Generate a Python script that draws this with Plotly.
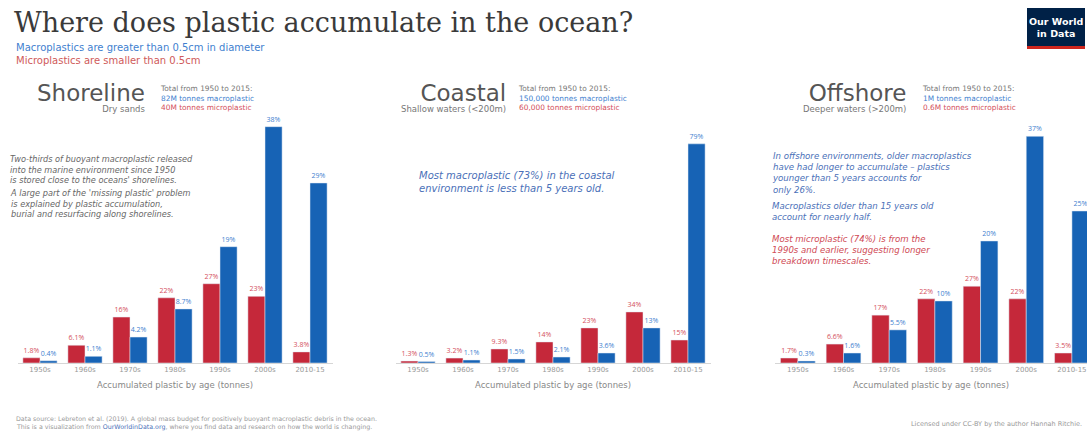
import plotly.graph_objects as go

W, H = 1087, 432

categories = ["1950s", "1960s", "1970s", "1980s", "1990s", "2000s", "2010-15"]

# Accumulated plastic by age (tonnes)
shore_micro = [0.7e6, 2.4e6, 6.2e6, 8.8e6, 10.7e6, 9.0e6, 1.5e6]
shore_macro = [0.3e6, 0.9e6, 3.5e6, 7.3e6, 15.7e6, 31.9e6, 24.3e6]

coast_micro = [900, 2300, 6600, 9900, 16500, 24000, 10800]
coast_macro = [700, 1400, 1900, 2800, 4700, 16500, 103000]

off_micro = [9500, 36000, 91000, 122000, 146000, 122000, 19000]
off_macro = [3800, 19000, 63000, 118000, 232000, 431000, 289000]

RED = "#c5283a"
BLUE = "#1763b5"
RED_T = "#d4505c"
BLUE_T = "#3f7fcf"
GRAY = "#777777"


def pct_labels(vals):
    tot = sum(vals)
    out = []
    for v in vals:
        p = v / tot * 100
        out.append(f"{p:.1f}%" if p < 10 else f"{p:.0f}%")
    return out


def px(x):
    return x / W


def py(y):
    return 1 - y / H


panels = [
    dict(micro=shore_micro, macro=shore_macro, xd=(17.5, 332.5), xr=[-0.5, 6.5], ymax=35.5e6),
    dict(micro=coast_micro, macro=coast_macro, xd=(395.5, 710.5), xr=[-0.5, 6.5], ymax=123600),
    dict(micro=off_micro, macro=off_macro, xd=(775, 1087), xr=[-0.5, 6.33], ymax=500000),
]

fig = go.Figure()
y_bottom, y_top = 363, 100
layout_axes = {}
for i, p in enumerate(panels):
    sfx = "" if i == 0 else str(i + 1)
    xa, ya = "x" + sfx, "y" + sfx
    fig.add_trace(go.Bar(
        x=categories, y=p["micro"], name="Microplastics", marker_color=RED,
        text=pct_labels(p["micro"]), textposition="outside",
        textfont=dict(size=7, color=RED_T), constraintext="none",
        xaxis=xa, yaxis=ya, showlegend=False, hoverinfo="x+y",
    ))
    fig.add_trace(go.Bar(
        x=categories, y=p["macro"], name="Macroplastics", marker_color=BLUE,
        text=pct_labels(p["macro"]), textposition="outside",
        textfont=dict(size=7, color=BLUE_T), constraintext="none",
        xaxis=xa, yaxis=ya, showlegend=False, hoverinfo="x+y",
    ))
    layout_axes["xaxis" + sfx] = dict(
        domain=[px(p["xd"][0]), min(1.0, px(p["xd"][1]))], anchor=ya,
        range=p["xr"], showgrid=False, zeroline=False,
        showline=True, linecolor="#d6d6d6", linewidth=1,
        ticks="", tickfont=dict(size=7, color="#999999", family="DejaVu Sans"),
        fixedrange=True,
    )
    layout_axes["yaxis" + sfx] = dict(
        domain=[py(y_bottom), py(y_top)], anchor=xa, range=[0, p["ymax"]],
        showgrid=False, zeroline=False, showticklabels=False, showline=False,
        fixedrange=True,
    )

fig.update_layout(**layout_axes)

ann = []


def T(x, y, text, size, color, xanchor="left", yanchor="middle", family="DejaVu Sans", italic=False):
    ann.append(dict(
        x=px(x), y=py(y), xref="paper", yref="paper", text=text, showarrow=False,
        xanchor=xanchor, yanchor=yanchor, align=xanchor if xanchor != "center" else "center",
        borderpad=0,
        font=dict(size=size, color=color, family=family, style="italic" if italic else "normal"),
    ))


# Title and subtitle
T(13, 22, "Where does plastic accumulate in the ocean?", 27, "#3a3a3a", family="DejaVu Serif")
T(15, 54, "Macroplastics are greater than 0.5cm in diameter<br>"
          "<span style='color:#cf5a5a'>Microplastics are smaller than 0.5cm</span>", 10, "#3f7fcf")

# Panel headers
heads = [
    (146, "Shoreline", "Dry sands", 159, ["Total from 1950 to 2015:", "82M tonnes macroplastic", "40M tonnes microplastic"]),
    (507, "Coastal", "Shallow waters (<200m)", 517, ["Total from 1950 to 2015:", "150,000 tonnes macroplastic", "60,000 tonnes microplastic"]),
    (907, "Offshore", "Deeper waters (>200m)", 921, ["Total from 1950 to 2015:", "1M tonnes macroplastic", "0.6M tonnes microplastic"]),
]
for xr_, big, small, xl, lines in heads:
    T(xr_, 115, f"<span style='font-size:23px;color:#555555'>{big}</span><br>{small}",
      8.5, GRAY, xanchor="right", yanchor="bottom")
    T(xl, 98, f"{lines[0]}<br><span style='color:{BLUE_T}'>{lines[1]}</span><br>"
              f"<span style='color:{RED_T}'>{lines[2]}</span>", 7.4, GRAY)

# Panel notes
shore_note = ("Two-thirds of buoyant macroplastic released<br>"
              "into the marine environment since 1950<br>"
              "is stored close to the oceans' shorelines.")
shore_note2 = ("A large part of the 'missing plastic' problem<br>"
               "is explained by plastic accumulation,<br>"
               "burial and resurfacing along shorelines.")
T(9, 169, shore_note, 8.2, "#666666", italic=True)
T(9, 203, shore_note2, 8.2, "#666666", italic=True)

coast_note = ("Most macroplastic (73%) in the coastal<br>"
              "environment is less than 5 years old.")
T(418, 182, coast_note, 10, "#4a70b8", italic=True)

off_note1 = ("In offshore environments, older macroplastics<br>"
             "have had longer to accumulate – plastics<br>"
             "younger than 5 years accounts for<br>"
             "only 26%.")
off_note2 = ("Macroplastics older than 15 years old<br>"
             "account for nearly half.")
off_note3 = ("Most microplastic (74%) is from the<br>"
             "1990s and earlier, suggesting longer<br>"
             "breakdown timescales.")
T(771, 173, off_note1, 8.6, "#4a70b8", italic=True)
T(771, 211, off_note2, 8.6, "#4a70b8", italic=True)
T(771, 250, off_note3, 8.6, "#cf4a55", italic=True)

# Axis titles
for cx in (175, 553, 931):
    T(cx, 385, "Accumulated plastic by age (tonnes)", 8.5, "#888888", xanchor="center")

# Footer
T(15, 419, "Data source: Lebreton et al. (2019). A global mass budget for positively buoyant macroplastic debris in the ocean.", 6.3, "#999999")
T(15, 427, "This is a visualization from <span style='color:#4a70b8'>OurWorldinData.org</span>, where you find data and research on how the world is changing.", 6.3, "#999999")
T(1083, 424, "Licensed under CC-BY by the author Hannah Ritchie.", 6.5, "#999999", xanchor="right")

# Logo
T(1056, 27, "<b>Our World<br>in Data</b>", 9.5, "white", xanchor="center")

fig.update_layout(
    width=W, height=H, margin=dict(l=0, r=0, t=0, b=0),
    paper_bgcolor="white", plot_bgcolor="white",
    barmode="group", bargap=0.24, bargroupgap=0,
    annotations=ann,
    shapes=[
        dict(type="rect", xref="paper", yref="paper", x0=px(1027), x1=px(1085), y0=py(46), y1=py(8),
             fillcolor="#002147", line=dict(width=0), layer="below"),
        dict(type="rect", xref="paper", yref="paper", x0=px(1027), x1=px(1085), y0=py(49), y1=py(46),
             fillcolor="#ce261e", line=dict(width=0), layer="below"),
    ],
)

fig.write_html("out.html")
